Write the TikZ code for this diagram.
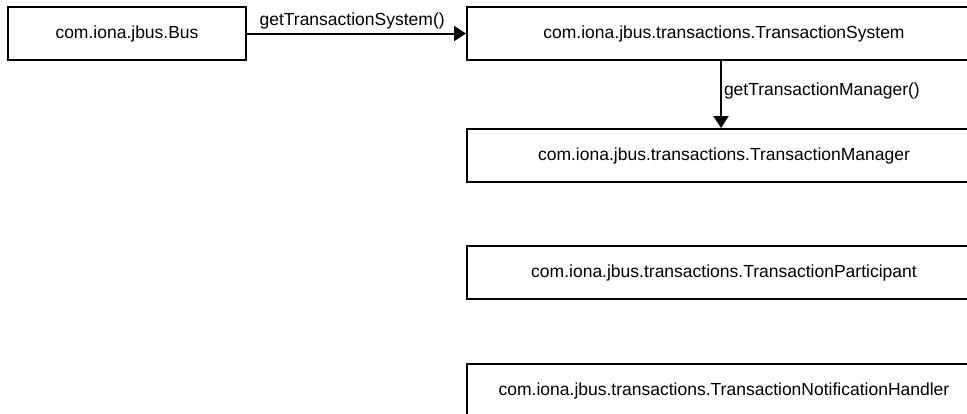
\documentclass[tikz,border=0pt]{standalone}
\usepackage{fontspec}
\setmainfont{Liberation Sans}
\usetikzlibrary{arrows.meta}
\begin{document}
\begin{tikzpicture}[x=1pt,y=-1pt,
  box/.style={draw=black,line width=2pt,fill=white,minimum height=53pt,inner sep=0pt,
    font=\fontsize{17.5}{20}\selectfont},
  lbl/.style={font=\fontsize{17.5}{20}\selectfont,inner sep=3pt},
  conn/.style={draw=black,line width=2pt,-{Triangle[length=12pt,width=15pt]}}]
\useasboundingbox (0,0) rectangle (967,413);
\node[box,minimum width=238pt] (bus) at (127,33.5) {com.iona.jbus.Bus};
\node[box,minimum width=514pt] (ts) at (724,33.5) {com.iona.jbus.transactions.TransactionSystem};
\node[box,minimum width=514pt] (tm) at (724,155.5) {com.iona.jbus.transactions.TransactionManager};
\node[box,minimum width=514pt] (tp) at (724,272.5) {com.iona.jbus.transactions.TransactionParticipant};
\node[box,minimum width=514pt] (tn) at (724,390.5) {com.iona.jbus.transactions.TransactionNotificationHandler};
\draw[conn] (bus.east) -- node[lbl,above,pos=0.48] {getTransactionSystem()} (ts.west);
\draw[conn] ([xshift=-3pt]ts.south) -- node[lbl,right,pos=0.45,inner sep=2pt] {getTransactionManager()} ([xshift=-3pt]tm.north);
\end{tikzpicture}
\end{document}
